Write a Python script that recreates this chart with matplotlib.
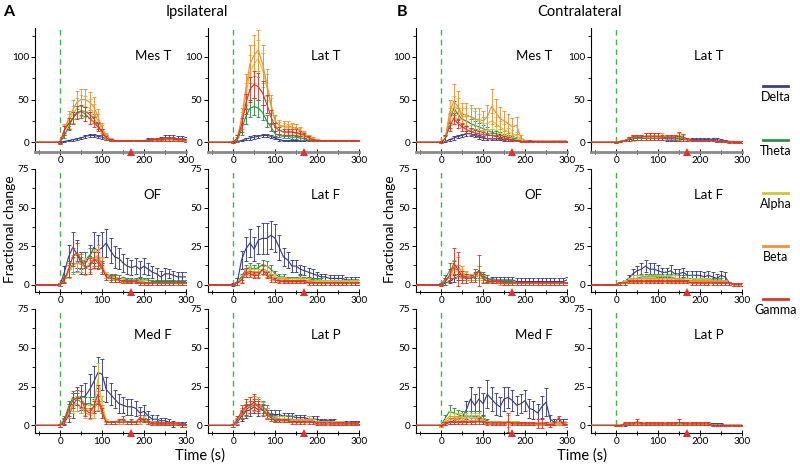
import matplotlib
matplotlib.use("Agg")
import matplotlib.pyplot as plt
from matplotlib.lines import Line2D
from matplotlib.ticker import MultipleLocator

plt.rcParams['font.family'] = ['Lato', 'DejaVu Sans']

# ---------------- data ----------------
BANDS = ["Delta", "Theta", "Alpha", "Beta", "Gamma"]
BAND_COLORS = ["#3a3d8f", "#2f8f46", "#c9c93a", "#f0913a", "#d8392b"]

PRE_TIME = [-60, -50, -40, -30, -20, -10]
PRE_VALUE = [0, 0, 0, 0, 0, 0]
TIME = [0, 10, 20, 30, 40, 50, 60, 70, 80, 90, 100, 110, 120, 130, 140, 150,
        160, 170, 180, 190, 200, 210, 220, 230, 240, 250, 260, 270, 280, 290, 300]
STIM_END = 170

# ---- Ipsilateral Mes T ----
IPSI_MEST_DELTA = [0,1,2,3,4,5,7,8,8,7,6,4,2,2,2,2,2,2,2,2,2,3,3,3,4,5,5,5,4,4,3]
IPSI_MEST_DELTA_ERR = [0.5,1,1,1,1,1.5,2,2,2,2,2,1.5,1,1,1,1,1,1,1,1,1,1.5,1.5,2,2,3,3,3,3,3,3]
IPSI_MEST_THETA = [0,8,18,28,34,37,36,33,28,20,12,6,3,2,2,2,2,2,2,2,2,2,2,2,2,3,3,3,2,2,2]
IPSI_MEST_THETA_ERR = [1,3,4,5,5,5,5,5,5,4,3,2,1,1,1,1,1,1,1,1,1,1,1,1,1,1,1,1,1,1,1]
IPSI_MEST_ALPHA = [0,14,25,33,40,43,42,40,35,25,15,7,3,2,2,2,2,2,2,2,2,2,2,2,3,3,3,3,2,2,2]
IPSI_MEST_ALPHA_ERR = [2,6,8,10,12,12,12,11,10,8,5,3,2,1,1,1,1,1,1,1,1,1,1,1,1,1,1,1,1,1,1]
IPSI_MEST_BETA = [0,15,28,38,47,50,50,47,42,30,17,8,3,2,2,2,2,2,2,2,2,2,2,2,3,3,3,3,2,2,2]
IPSI_MEST_BETA_ERR = [2,7,9,11,13,13,13,12,11,9,6,3,2,1,1,1,1,1,1,1,1,1,1,1,1,1,1,1,1,1,1]
IPSI_MEST_GAMMA = [0,14,22,28,35,36,33,28,24,18,12,5,3,2,2,2,2,2,2,2,2,2,3,3,3,4,4,4,3,3,2]
IPSI_MEST_GAMMA_ERR = [2,5,6,7,8,8,8,7,6,5,4,2,1,1,1,1,1,1,1,1,1,1,2,2,2,2,2,2,2,2,2]

# ---- Ipsilateral Lat T ----
IPSI_LATT_DELTA = [0,1,2,4,5,6,7,8,8,7,5,3,2,2,2,2,2,2,2,2,2,2,2,2,2,2,2,2,2,2,2]
IPSI_LATT_DELTA_ERR = [0.5,1,1,1.5,2,2,2,2,2,2,1.5,1,1,1,1,1,1,1,1,1,1,1,1,1,1,1,1,1,1,1,1]
IPSI_LATT_THETA = [0,3,15,30,40,42,40,35,25,18,10,8,7,7,6,6,5,4,3,2,2,2,2,2,2,2,2,2,2,2,2]
IPSI_LATT_THETA_ERR = [1,3,6,9,10,10,10,9,7,5,3,2,2,2,2,2,2,1,1,1,1,1,1,1,1,1,1,1,1,1,1]
IPSI_LATT_ALPHA = [0,5,25,55,82,92,98,85,65,42,25,19,18,17,17,16,13,9,6,4,3,2,2,2,2,2,2,2,2,2,2]
IPSI_LATT_ALPHA_ERR = [1,4,10,15,20,22,22,20,15,10,6,5,5,5,5,5,4,3,2,2,1,1,1,1,1,1,1,1,1,1,1]
IPSI_LATT_BETA = [0,5,28,62,92,102,108,92,70,45,25,20,19,19,18,17,14,10,6,4,3,2,2,2,2,2,2,2,2,2,2]
IPSI_LATT_BETA_ERR = [1,4,12,18,22,24,24,22,16,11,7,6,6,6,5,5,4,3,2,2,1,1,1,1,1,1,1,1,1,1,1]
IPSI_LATT_GAMMA = [0,5,20,45,62,68,65,58,45,30,18,14,12,12,12,11,10,8,5,3,2,2,2,2,2,2,2,2,2,2,2]
IPSI_LATT_GAMMA_ERR = [1,3,8,12,15,16,16,14,11,8,5,4,4,4,4,4,3,3,2,1,1,1,1,1,1,1,1,1,1,1,1]

# ---- Ipsilateral OF ----
IPSI_OF_DELTA = [0,8,18,24,20,14,14,18,24,22,24,27,22,18,17,14,12,11,12,10,12,10,8,7,5,7,7,6,5,5,5]
IPSI_OF_DELTA_ERR = [1,4,8,10,9,7,7,8,10,10,10,9,8,7,7,6,5,5,5,5,5,4,4,4,4,4,3,3,3,3,3]
IPSI_OF_THETA = [0,4,9,13,14,15,16,19,17,14,10,6,5,5,4,4,3,3,3,3,3,3,2,2,2,2,2,2,2,2,2]
IPSI_OF_THETA_ERR = [1,2,4,5,5,5,5,5,5,4,3,2,2,2,2,1,1,1,1,1,1,1,1,1,1,1,1,1,1,1,1]
IPSI_OF_ALPHA = [0,3,8,12,14,14,12,12,16,17,12,6,4,4,3,3,2,2,2,2,2,1,1,1,1,1,1,1,1,1,1]
IPSI_OF_ALPHA_ERR = [1,2,4,5,6,6,5,5,6,6,5,2,2,1,1,1,1,1,1,1,1,1,1,1,1,1,1,1,1,1,1]
IPSI_OF_BETA = [0,3,9,13,14,13,11,13,17,19,13,5,4,3,3,2,2,2,2,2,1,1,1,1,1,1,1,1,1,1,1]
IPSI_OF_BETA_ERR = [1,2,5,6,6,5,5,5,6,7,5,2,2,1,1,1,1,1,1,1,1,1,1,1,1,1,1,1,1,1,1]
IPSI_OF_GAMMA = [0,3,10,18,21,16,11,12,16,16,11,5,4,4,3,2,2,2,2,1,1,1,1,1,1,1,1,1,1,1,1]
IPSI_OF_GAMMA_ERR = [1,2,5,6,6,5,4,5,5,5,4,2,2,2,1,1,1,1,1,1,1,1,1,1,1,1,1,1,1,1,1]

# ---- Ipsilateral Lat F ----
IPSI_LATF_DELTA = [0,2,16,23,27,23,29,30,30,32,30,24,18,16,12,12,10,9,8,7,6,5,5,4,4,4,4,3,3,3,3]
IPSI_LATF_DELTA_ERR = [1,2,6,8,9,8,9,10,10,9,9,8,6,5,4,4,3,3,3,3,2,2,2,2,2,2,2,2,2,2,2]
IPSI_LATF_THETA = [0,1,5,10,11,10,11,13,12,10,7,5,5,4,4,4,5,4,4,3,3,3,2,2,2,2,2,2,2,2,2]
IPSI_LATF_THETA_ERR = [0.5,1,2,3,3,3,3,3,3,3,2,2,2,1,1,1,1,1,1,1,1,1,1,1,1,1,1,1,1,1,1]
IPSI_LATF_ALPHA = [0,1,4,8,9,8,8,10,9,7,5,4,4,3,3,3,4,3,3,2,2,2,2,2,2,2,2,2,2,2,2]
IPSI_LATF_ALPHA_ERR = [0.5,1,2,2,3,2,2,3,3,2,2,1,1,1,1,1,1,1,1,1,1,1,1,1,1,1,1,1,1,1,1]
IPSI_LATF_BETA = [0,1,3,7,8,7,7,9,7,5,4,3,3,3,2,2,3,2,2,2,1,1,1,1,1,1,1,1,1,1,1]
IPSI_LATF_BETA_ERR = [0.5,1,2,2,2,2,2,3,2,2,1,1,1,1,1,1,1,1,1,1,1,1,1,1,1,1,1,1,1,1,1]
IPSI_LATF_GAMMA = [0,1,3,8,7,6,6,10,6,4,3,2,2,2,2,2,2,2,1,1,1,1,1,1,1,1,1,1,1,1,1]
IPSI_LATF_GAMMA_ERR = [0.5,1,2,3,2,2,2,3,2,2,1,1,1,1,1,1,1,1,1,1,1,1,1,1,1,1,1,1,1,1,1]

# ---- Ipsilateral Med F ----
IPSI_MEDF_DELTA = [0,2,6,13,17,18,19,23,28,34,33,23,20,17,14,13,12,12,11,8,9,6,4,4,3,3,2,1,1,1,1]
IPSI_MEDF_DELTA_ERR = [1,2,4,8,8,8,8,10,10,10,10,8,7,6,6,5,5,5,5,4,4,3,3,3,2,2,2,2,1,1,1]
IPSI_MEDF_THETA = [0,4,12,18,17,15,14,14,13,14,12,3,2,2,2,3,2,3,2,2,5,3,2,2,1,1,1,1,1,0,0]
IPSI_MEDF_THETA_ERR = [1,2,4,4,4,4,4,4,4,5,4,1,1,1,1,1,1,1,1,1,2,1,1,1,1,1,1,1,1,1,1]
IPSI_MEDF_ALPHA = [0,3,8,12,13,12,10,10,12,30,14,3,2,2,2,2,2,2,2,2,4,2,2,1,1,1,1,1,1,0,0]
IPSI_MEDF_ALPHA_ERR = [1,2,3,4,4,4,3,3,4,10,5,1,1,1,1,1,1,1,1,1,2,1,1,1,1,1,1,1,1,1,1]
IPSI_MEDF_BETA = [0,3,8,13,14,12,8,7,9,16,9,2,2,2,2,2,2,2,2,2,3,2,1,1,1,1,1,1,1,0,0]
IPSI_MEDF_BETA_ERR = [1,2,3,4,5,4,3,3,4,6,4,1,1,1,1,1,1,1,1,1,1,1,1,1,1,1,1,1,1,1,1]
IPSI_MEDF_GAMMA = [0,3,10,16,18,17,10,8,12,20,8,2,2,2,3,4,2,2,2,5,3,2,1,1,1,1,1,1,1,0,0]
IPSI_MEDF_GAMMA_ERR = [1,2,4,5,5,5,4,3,4,6,3,1,1,1,1,2,1,1,1,2,1,1,1,1,1,1,1,1,1,1,1]

# ---- Ipsilateral Lat P ----
IPSI_LATP_DELTA = [0,2,6,9,10,12,10,10,8,7,7,7,6,6,6,5,5,5,4,4,4,3,3,3,3,2,2,2,2,2,2]
IPSI_LATP_DELTA_ERR = [1,2,3,4,4,4,4,3,3,3,3,3,2,2,2,2,2,2,2,2,2,1,1,1,1,1,1,1,1,1,1]
IPSI_LATP_THETA = [0,3,7,10,12,13,13,12,10,6,5,4,4,4,4,3,3,3,3,3,2,2,2,2,2,2,2,1,1,1,1]
IPSI_LATP_THETA_ERR = [1,2,3,4,4,4,4,4,3,2,2,2,2,2,2,1,1,1,1,1,1,1,1,1,1,1,1,1,1,1,1]
IPSI_LATP_ALPHA = [0,4,8,11,13,14,12,11,8,5,4,4,4,3,3,3,3,3,4,3,2,2,2,2,2,2,2,1,1,1,1]
IPSI_LATP_ALPHA_ERR = [1,2,3,4,5,5,4,4,3,2,2,2,2,1,1,1,1,1,2,1,1,1,1,1,1,1,1,1,1,1,1]
IPSI_LATP_BETA = [0,3,8,12,13,14,13,11,8,5,4,3,3,3,3,3,3,3,3,3,2,2,2,2,1,1,1,1,1,1,1]
IPSI_LATP_BETA_ERR = [1,2,3,5,5,5,5,4,3,2,2,1,1,1,1,1,1,1,1,1,1,1,1,1,1,1,1,1,1,1,1]
IPSI_LATP_GAMMA = [0,4,9,12,13,15,12,10,7,5,3,3,3,3,2,2,2,2,2,2,1,1,1,1,1,1,1,1,1,1,1]
IPSI_LATP_GAMMA_ERR = [1,2,4,5,5,5,4,4,3,2,1,1,1,1,1,1,1,1,1,1,1,1,1,1,1,1,1,1,1,1,1]

# ---- Contralateral Mes T ----
CONTRA_MEST_DELTA = [0,1,3,5,7,8,10,10,8,6,5,4,4,4,4,3,3,2,2,2,2,2,1,1,1,1,1,1,1,1,1]
CONTRA_MEST_DELTA_ERR = [0.5,1,1,2,2,2,3,3,2,2,2,1,1,1,1,1,1,1,1,1,1,1,1,1,1,1,1,1,1,1,1]
CONTRA_MEST_THETA = [0,4,25,40,33,27,25,22,20,18,16,14,12,10,9,7,6,5,4,2,1,1,1,1,1,1,1,1,1,1,1]
CONTRA_MEST_THETA_ERR = [1,3,8,8,7,6,6,5,5,5,4,4,4,3,3,3,2,2,2,1,1,1,1,1,1,1,1,1,1,1,1]
CONTRA_MEST_ALPHA = [0,5,30,42,40,30,30,30,28,25,22,22,25,22,18,15,12,10,8,3,1,1,1,1,1,1,1,1,1,1,1]
CONTRA_MEST_ALPHA_ERR = [1,4,10,12,12,10,10,10,9,8,8,8,9,8,7,6,5,4,4,2,1,1,1,1,1,1,1,1,1,1,1]
CONTRA_MEST_BETA = [0,5,35,48,42,32,32,30,27,27,25,30,42,35,28,25,22,18,20,5,2,1,1,1,1,1,1,1,1,1,1]
CONTRA_MEST_BETA_ERR = [1,4,15,20,18,14,14,14,13,13,12,14,20,16,13,12,11,10,10,3,1,1,1,1,1,1,1,1,1,1,1]
CONTRA_MEST_GAMMA = [0,5,18,28,22,18,15,13,11,10,9,8,8,7,6,5,4,3,2,1,1,1,1,1,1,1,1,1,1,1,1]
CONTRA_MEST_GAMMA_ERR = [1,3,5,6,5,5,4,4,3,3,3,3,3,2,2,2,2,1,1,1,1,1,1,1,1,1,1,1,1,1,1]

# ---- Contralateral Lat T ----
CONTRA_LATT_DELTA = [0,1,2,3,4,5,5,5,5,5,5,5,4,4,4,4,3,3,3,3,3,3,3,3,3,2,2,1,1,0,0]
CONTRA_LATT_DELTA_ERR = [0.5,1,1,1,2,2,2,2,2,2,2,2,2,2,2,2,2,2,2,2,2,2,2,2,2,2,1,1,1,1,1]
CONTRA_LATT_THETA = [0,1,2,4,5,5,5,5,5,5,5,5,5,5,5,5,4,3,2,2,2,2,2,2,1,1,1,0,0,0,0]
CONTRA_LATT_THETA_ERR = [0.5,1,1,2,2,2,2,2,2,2,2,2,2,2,2,2,2,1,1,1,1,1,1,1,1,1,1,1,1,1,1]
CONTRA_LATT_ALPHA = [0,1,2,4,5,6,6,6,6,6,6,6,6,6,6,6,5,3,2,2,2,2,2,2,1,1,1,0,0,0,0]
CONTRA_LATT_ALPHA_ERR = [0.5,1,1,2,3,3,3,3,3,3,3,3,3,3,3,3,3,2,1,1,1,1,1,1,1,1,1,1,1,1,1]
CONTRA_LATT_BETA = [0,1,2,4,6,6,6,7,7,7,7,7,6,6,6,7,6,3,2,2,2,2,2,2,1,1,1,0,0,0,0]
CONTRA_LATT_BETA_ERR = [0.5,1,1,2,3,3,3,4,4,4,4,4,3,3,3,4,4,2,1,1,1,1,1,1,1,1,1,1,1,1,1]
CONTRA_LATT_GAMMA = [0,1,2,4,6,6,6,7,7,7,7,6,6,6,6,7,6,3,2,2,2,2,2,2,1,1,1,0,0,0,0]
CONTRA_LATT_GAMMA_ERR = [0.5,1,1,2,3,3,3,4,4,4,4,3,3,3,3,5,4,2,1,1,1,1,1,1,1,1,1,1,1,1,1]

# ---- Contralateral OF ----
CONTRA_OF_DELTA = [0,1,2,4,5,5,5,5,5,6,5,4,3,3,3,3,3,3,2,2,2,2,2,2,2,2,2,2,2,2,3]
CONTRA_OF_DELTA_ERR = [0.5,1,1,2,2,2,2,2,2,2,2,2,2,2,2,2,2,2,2,2,2,2,2,2,2,2,2,2,2,2,2]
CONTRA_OF_THETA = [0,4,9,11,9,6,5,5,7,9,6,4,3,2,2,2,2,2,1,1,1,1,1,1,1,1,1,1,1,1,1]
CONTRA_OF_THETA_ERR = [1,2,5,4,4,3,2,2,3,3,2,2,1,1,1,1,1,1,1,1,1,1,1,1,1,1,1,1,1,1,1]
CONTRA_OF_ALPHA = [0,2,5,8,9,7,6,5,5,6,4,2,2,2,1,1,1,1,1,1,1,1,1,1,1,1,1,1,1,1,1]
CONTRA_OF_ALPHA_ERR = [1,2,3,4,4,3,2,2,2,3,2,1,1,1,1,1,1,1,1,1,1,1,1,1,1,1,1,1,1,1,1]
CONTRA_OF_BETA = [0,2,6,10,12,8,6,5,5,8,5,2,2,2,1,1,1,1,1,1,1,1,1,1,1,1,1,1,1,1,1]
CONTRA_OF_BETA_ERR = [1,2,4,6,6,4,3,2,2,4,2,1,1,1,1,1,1,1,1,1,1,1,1,1,1,1,1,1,1,1,1]
CONTRA_OF_GAMMA = [0,2,6,14,10,5,4,4,5,9,4,2,2,2,2,1,1,1,1,1,1,1,1,1,1,1,1,1,1,1,1]
CONTRA_OF_GAMMA_ERR = [1,2,4,10,11,4,3,2,3,10,3,1,1,1,1,1,1,1,1,1,1,1,1,1,1,1,1,1,1,1,1]

# ---- Contralateral Lat F ----
CONTRA_LATF_DELTA = [0,1,2,4,7,9,10,12,10,10,9,8,8,9,7,7,8,6,6,6,6,5,6,5,4,6,5,1,0,0,0]
CONTRA_LATF_DELTA_ERR = [0.5,1,1,2,3,3,4,4,4,4,4,3,3,4,3,3,3,3,3,3,3,3,3,3,3,3,3,1,1,1,1]
CONTRA_LATF_THETA = [0,1,2,3,4,4,5,5,5,5,5,5,5,5,4,4,4,4,4,3,3,3,3,3,3,3,2,1,0,0,0]
CONTRA_LATF_THETA_ERR = [0.5,1,1,1,2,2,2,2,2,2,2,2,2,2,2,2,2,2,2,1,1,1,1,1,1,1,1,1,1,1,1]
CONTRA_LATF_ALPHA = [0,1,2,3,4,4,4,4,4,4,4,4,4,4,4,3,3,3,3,3,3,3,3,2,2,2,2,1,0,0,0]
CONTRA_LATF_ALPHA_ERR = [0.5,1,1,1,2,2,2,2,2,2,2,2,2,2,2,1,1,1,1,1,1,1,1,1,1,1,1,1,1,1,1]
CONTRA_LATF_BETA = [0,1,1,2,3,3,3,3,3,3,3,3,3,3,3,3,3,2,2,2,2,2,2,2,2,2,2,1,0,0,0]
CONTRA_LATF_BETA_ERR = [0.5,1,1,1,1,1,1,1,1,1,1,1,1,1,1,1,1,1,1,1,1,1,1,1,1,1,1,1,1,1,1]
CONTRA_LATF_GAMMA = [0,1,1,2,2,2,2,2,2,2,2,2,2,2,2,2,2,2,1,1,1,1,1,1,1,1,1,1,0,0,0]
CONTRA_LATF_GAMMA_ERR = [0.5,1,1,1,1,1,1,1,1,1,1,1,1,1,1,1,1,1,1,1,1,1,1,1,1,1,1,1,1,1,1]

# ---- Contralateral Med F ----
CONTRA_MEDF_DELTA = [0,1,2,3,4,5,10,17,13,17,14,20,17,14,12,17,18,16,13,14,16,11,10,8,12,15,4,2,2,2,2]
CONTRA_MEDF_DELTA_ERR = [1,1,1,2,2,3,6,8,7,8,7,9,8,7,6,8,7,7,6,6,7,6,6,6,7,9,3,2,2,2,2]
CONTRA_MEDF_THETA = [0,5,9,8,7,6,6,6,6,6,4,3,2,2,2,2,2,2,2,1,1,1,1,1,1,1,1,1,1,1,1]
CONTRA_MEDF_THETA_ERR = [1,2,4,3,3,3,3,3,3,3,2,1,1,1,1,1,1,1,1,1,1,1,1,1,1,1,1,1,1,1,1]
CONTRA_MEDF_ALPHA = [0,3,6,5,5,5,5,5,5,5,3,2,2,2,2,2,2,2,2,1,1,1,1,1,1,1,1,1,1,1,1]
CONTRA_MEDF_ALPHA_ERR = [1,2,3,3,3,3,3,3,3,3,2,1,1,1,1,1,1,1,1,1,1,1,1,1,1,1,1,1,1,1,1]
CONTRA_MEDF_BETA = [0,2,4,4,4,3,3,3,3,4,3,2,2,2,2,1,3,1,1,1,1,1,1,1,1,1,1,1,1,1,1]
CONTRA_MEDF_BETA_ERR = [1,1,2,2,2,2,2,2,2,2,2,1,1,1,1,1,4,1,1,1,1,1,1,1,1,1,1,1,1,1,1]
CONTRA_MEDF_GAMMA = [0,1,2,2,2,2,2,2,2,3,2,1,1,1,1,1,2,1,1,1,1,1,1,1,1,1,0,1,5,1,0]
CONTRA_MEDF_GAMMA_ERR = [0.5,1,1,1,1,1,1,1,1,2,1,1,1,1,1,1,6,1,1,1,1,1,1,3,3,1,1,1,1,1,1]

# ---- Contralateral Lat P ----
CONTRA_LATP_DELTA = [0,0,0,1,1,1,1,1,1,1,1,1,1,1,1,1,1,1,1,1,1,1,1,1,1,1,0,0,0,0,0]
CONTRA_LATP_DELTA_ERR = [0.5,0.5,0.5,0.5,0.5,0.5,0.5,0.5,0.5,0.5,0.5,0.5,0.5,0.5,0.5,0.5,0.5,0.5,0.5,0.5,0.5,0.5,0.5,0.5,0.5,0.5,0.5,0.5,0.5,0.5,0.5]
CONTRA_LATP_THETA = [0,0,1,1,1,1,1,1,1,1,1,1,1,1,1,1,1,1,1,1,1,1,1,0,0,0,0,0,0,0,0]
CONTRA_LATP_THETA_ERR = [0.5,0.5,0.5,0.5,0.5,0.5,0.5,0.5,0.5,0.5,0.5,0.5,0.5,0.5,0.5,0.5,0.5,0.5,0.5,0.5,0.5,0.5,0.5,0.5,0.5,0.5,0.5,0.5,0.5,0.5,0.5]
CONTRA_LATP_ALPHA = [0,0,1,1,1,1,1,1,1,1,1,1,1,1,1,1,1,1,1,1,1,1,1,0,0,0,0,0,0,0,0]
CONTRA_LATP_ALPHA_ERR = [0.5,0.5,0.5,0.5,0.5,0.5,0.5,0.5,0.5,0.5,0.5,0.5,0.5,0.5,0.5,0.5,0.5,0.5,0.5,0.5,0.5,0.5,0.5,0.5,0.5,0.5,0.5,0.5,0.5,0.5,0.5]
CONTRA_LATP_BETA = [0,0,1,1,1,2,1,1,1,1,1,1,1,1,1,2,1,1,1,1,1,1,1,0,0,0,0,0,0,0,0]
CONTRA_LATP_BETA_ERR = [0.5,0.5,1,1,1,1,1,1,1,1,1,1,1,1,1,2,1,1,1,1,1,1,1,0.5,0.5,0.5,0.5,0.5,0.5,0.5,0.5]
CONTRA_LATP_GAMMA = [0,0,1,1,1,2,1,1,1,1,1,1,1,1,1,2,1,1,1,1,1,1,1,0,0,0,0,0,0,0,0]
CONTRA_LATP_GAMMA_ERR = [0.5,0.5,1,1,1,2,1,1,1,1,1,1,1,1,1,2,1,1,1,1,1,1,1,0.5,0.5,0.5,0.5,0.5,0.5,0.5,0.5]

PANEL_NAMES = [["Mes T", "Lat T", "Mes T", "Lat T"],
               ["OF", "Lat F", "OF", "Lat F"],
               ["Med F", "Lat P", "Med F", "Lat P"]]

PANEL_SERIES = [
    [(IPSI_MEST_DELTA, IPSI_MEST_THETA, IPSI_MEST_ALPHA, IPSI_MEST_BETA, IPSI_MEST_GAMMA),
     (IPSI_LATT_DELTA, IPSI_LATT_THETA, IPSI_LATT_ALPHA, IPSI_LATT_BETA, IPSI_LATT_GAMMA),
     (CONTRA_MEST_DELTA, CONTRA_MEST_THETA, CONTRA_MEST_ALPHA, CONTRA_MEST_BETA, CONTRA_MEST_GAMMA),
     (CONTRA_LATT_DELTA, CONTRA_LATT_THETA, CONTRA_LATT_ALPHA, CONTRA_LATT_BETA, CONTRA_LATT_GAMMA)],
    [(IPSI_OF_DELTA, IPSI_OF_THETA, IPSI_OF_ALPHA, IPSI_OF_BETA, IPSI_OF_GAMMA),
     (IPSI_LATF_DELTA, IPSI_LATF_THETA, IPSI_LATF_ALPHA, IPSI_LATF_BETA, IPSI_LATF_GAMMA),
     (CONTRA_OF_DELTA, CONTRA_OF_THETA, CONTRA_OF_ALPHA, CONTRA_OF_BETA, CONTRA_OF_GAMMA),
     (CONTRA_LATF_DELTA, CONTRA_LATF_THETA, CONTRA_LATF_ALPHA, CONTRA_LATF_BETA, CONTRA_LATF_GAMMA)],
    [(IPSI_MEDF_DELTA, IPSI_MEDF_THETA, IPSI_MEDF_ALPHA, IPSI_MEDF_BETA, IPSI_MEDF_GAMMA),
     (IPSI_LATP_DELTA, IPSI_LATP_THETA, IPSI_LATP_ALPHA, IPSI_LATP_BETA, IPSI_LATP_GAMMA),
     (CONTRA_MEDF_DELTA, CONTRA_MEDF_THETA, CONTRA_MEDF_ALPHA, CONTRA_MEDF_BETA, CONTRA_MEDF_GAMMA),
     (CONTRA_LATP_DELTA, CONTRA_LATP_THETA, CONTRA_LATP_ALPHA, CONTRA_LATP_BETA, CONTRA_LATP_GAMMA)],
]
PANEL_ERRORS = [
    [(IPSI_MEST_DELTA_ERR, IPSI_MEST_THETA_ERR, IPSI_MEST_ALPHA_ERR, IPSI_MEST_BETA_ERR, IPSI_MEST_GAMMA_ERR),
     (IPSI_LATT_DELTA_ERR, IPSI_LATT_THETA_ERR, IPSI_LATT_ALPHA_ERR, IPSI_LATT_BETA_ERR, IPSI_LATT_GAMMA_ERR),
     (CONTRA_MEST_DELTA_ERR, CONTRA_MEST_THETA_ERR, CONTRA_MEST_ALPHA_ERR, CONTRA_MEST_BETA_ERR, CONTRA_MEST_GAMMA_ERR),
     (CONTRA_LATT_DELTA_ERR, CONTRA_LATT_THETA_ERR, CONTRA_LATT_ALPHA_ERR, CONTRA_LATT_BETA_ERR, CONTRA_LATT_GAMMA_ERR)],
    [(IPSI_OF_DELTA_ERR, IPSI_OF_THETA_ERR, IPSI_OF_ALPHA_ERR, IPSI_OF_BETA_ERR, IPSI_OF_GAMMA_ERR),
     (IPSI_LATF_DELTA_ERR, IPSI_LATF_THETA_ERR, IPSI_LATF_ALPHA_ERR, IPSI_LATF_BETA_ERR, IPSI_LATF_GAMMA_ERR),
     (CONTRA_OF_DELTA_ERR, CONTRA_OF_THETA_ERR, CONTRA_OF_ALPHA_ERR, CONTRA_OF_BETA_ERR, CONTRA_OF_GAMMA_ERR),
     (CONTRA_LATF_DELTA_ERR, CONTRA_LATF_THETA_ERR, CONTRA_LATF_ALPHA_ERR, CONTRA_LATF_BETA_ERR, CONTRA_LATF_GAMMA_ERR)],
    [(IPSI_MEDF_DELTA_ERR, IPSI_MEDF_THETA_ERR, IPSI_MEDF_ALPHA_ERR, IPSI_MEDF_BETA_ERR, IPSI_MEDF_GAMMA_ERR),
     (IPSI_LATP_DELTA_ERR, IPSI_LATP_THETA_ERR, IPSI_LATP_ALPHA_ERR, IPSI_LATP_BETA_ERR, IPSI_LATP_GAMMA_ERR),
     (CONTRA_MEDF_DELTA_ERR, CONTRA_MEDF_THETA_ERR, CONTRA_MEDF_ALPHA_ERR, CONTRA_MEDF_BETA_ERR, CONTRA_MEDF_GAMMA_ERR),
     (CONTRA_LATP_DELTA_ERR, CONTRA_LATP_THETA_ERR, CONTRA_LATP_ALPHA_ERR, CONTRA_LATP_BETA_ERR, CONTRA_LATP_GAMMA_ERR)],
]

# ---------------- layout ----------------
W, H = 800, 466
fig = plt.figure(figsize=(8.0, 4.66), dpi=100)

col_left_px = [35, 208, 416, 591]
col_width_px = 151
# (top_px, bottom_px, ymin, ymax)
rows = [(28, 152, -11.4, 134),
        (169, 292, -4.8, 75),
        (309, 433, -4.9, 75)]

for r, (top_px, bot_px, ymin, ymax) in enumerate(rows):
    for c in range(4):
        ax = fig.add_axes([col_left_px[c] / W, 1 - bot_px / H,
                           col_width_px / W, (bot_px - top_px) / H])
        ax.set_xlim(-60, 300)
        ax.set_ylim(ymin, ymax)
        for s in ("top", "right"):
            ax.spines[s].set_visible(False)
        ax.spines["left"].set_linewidth(0.8)
        if r == 0:
            ax.spines["bottom"].set_color("#8a8a8a")
            ax.spines["bottom"].set_linewidth(2.0)
        else:
            ax.spines["bottom"].set_linewidth(0.8)
        ax.patch.set_alpha(0)

        # stimulus onset
        ax.plot([0, 0], [0, ymax], ls=(0, (4, 3)), color="#4caf50", lw=1.0, zorder=1)

        for b in range(5):
            vals = PRE_VALUE + list(PANEL_SERIES[r][c][b])
            errs = [0] * len(PRE_VALUE) + list(PANEL_ERRORS[r][c][b])
            ax.errorbar(PRE_TIME + TIME, vals, yerr=errs, color=BAND_COLORS[b],
                        lw=0.85, elinewidth=0.65, capsize=1.6, capthick=0.65,
                        zorder=2 + b)

        # stimulus end marker
        ax.plot([STIM_END], [ymin], marker="^", color="#e53030", ms=5.5,
                clip_on=False, zorder=10, markeredgewidth=0)

        ax.text(221, 101 if r == 0 else 58, PANEL_NAMES[r][c],
                ha="center", va="center", fontsize=9.5)

        ax.xaxis.set_major_locator(MultipleLocator(100))
        ax.xaxis.set_minor_locator(MultipleLocator(50))
        if r == 0:
            ax.yaxis.set_major_locator(MultipleLocator(50))
            ax.yaxis.set_minor_locator(MultipleLocator(25))
        else:
            ax.yaxis.set_major_locator(MultipleLocator(25))
            ax.yaxis.set_minor_locator(MultipleLocator(12.5))
        ax.tick_params(axis="x", which="both", direction="inout", labelsize=7.2,
                       length=4, width=0.7, pad=1)
        ax.tick_params(axis="x", which="minor", length=3)
        ax.tick_params(axis="y", which="major", direction="out", labelsize=7.2,
                       length=3, width=0.7, pad=1)
        ax.tick_params(axis="y", which="minor", direction="out", length=2, width=0.6)

# titles and labels
fig.text(9 / W, 1 - 12 / H, "A", fontsize=11.5, fontweight="bold", ha="center", va="center")
fig.text(402 / W, 1 - 12 / H, "B", fontsize=11.5, fontweight="bold", ha="center", va="center")
fig.text(197 / W, 1 - 12 / H, "Ipsilateral", fontsize=10.5, ha="center", va="center")
fig.text(579 / W, 1 - 12 / H, "Contralateral", fontsize=10.5, ha="center", va="center")
fig.text(10 / W, 1 - 229 / H, "Fractional change", fontsize=10, rotation=90, ha="center", va="center")
fig.text(390 / W, 1 - 229 / H, "Fractional change", fontsize=10, rotation=90, ha="center", va="center")
fig.text(200 / W, 1 - 456 / H, "Time (s)", fontsize=10.5, ha="center", va="center")
fig.text(582 / W, 1 - 456 / H, "Time (s)", fontsize=10.5, ha="center", va="center")

# legend on the right
legend_line_y = [86, 140, 193, 246, 299]
for b in range(5):
    ly = 1 - legend_line_y[b] / H
    fig.add_artist(Line2D([763 / W, 788 / W], [ly, ly], color=BAND_COLORS[b], lw=2))
    fig.text(776 / W, 1 - (legend_line_y[b] + 11) / H, BANDS[b], fontsize=9,
             ha="center", va="center")

fig.savefig("out.png", dpi=100)
